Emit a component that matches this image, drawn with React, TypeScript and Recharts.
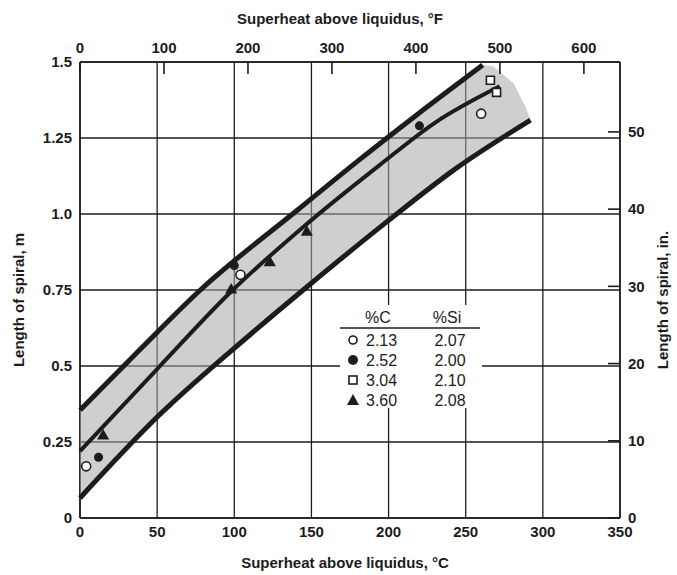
import React from 'react'
import { ComposedChart, Scatter, XAxis, YAxis, ZAxis, CartesianGrid } from 'recharts'

const celsiusTicks = [0, 50, 100, 150, 200, 250, 300, 350]
const fahrenheitTicks = [0, 100, 200, 300, 400, 500, 600]
const meterTicks = [0, 0.25, 0.5, 0.75, 1.0, 1.25, 1.5]
const meterLabels = ['0', '0.25', '0.5', '0.75', '1.0', '1.25', '1.5']
const inchTicks = [0, 10, 20, 30, 40, 50]

// scatter band edges (superheat °C, length m)
const upperEdge = [
  { c: 0, m: 0.355 }, { c: 40, m: 0.56 }, { c: 78, m: 0.75 }, { c: 141, m: 1.013 },
  { c: 181, m: 1.178 }, { c: 218, m: 1.325 }, { c: 261, m: 1.49 },
]
const bandCap = [{ c: 268, m: 1.485 }, { c: 281, m: 1.43 }, { c: 289, m: 1.35 }]
const lowerEdge = [
  { c: 0, m: 0.066 }, { c: 50, m: 0.332 }, { c: 110, m: 0.602 }, { c: 147, m: 0.76 },
  { c: 199, m: 0.975 }, { c: 244, m: 1.151 }, { c: 292, m: 1.309 },
]
const midLine = [
  { c: 0, m: 0.22 }, { c: 50, m: 0.49 }, { c: 97, m: 0.74 }, { c: 143, m: 0.95 },
  { c: 194, m: 1.16 }, { c: 230, m: 1.3 }, { c: 272, m: 1.42 },
]

// measured points per composition
const c213 = [{ c: 4, m: 0.17 }, { c: 104, m: 0.8 }, { c: 260, m: 1.33 }]
const c252 = [{ c: 12, m: 0.2 }, { c: 100, m: 0.83 }, { c: 220, m: 1.29 }]
const c304 = [{ c: 266, m: 1.44 }, { c: 270, m: 1.4 }]
const c360 = [{ c: 15, m: 0.27 }, { c: 98, m: 0.75 }, { c: 123, m: 0.84 }, { c: 147, m: 0.94 }]

const legendRows = [
  { shape: 'openCircle', carbon: '2.13', silicon: '2.07' },
  { shape: 'dot', carbon: '2.52', silicon: '2.00' },
  { shape: 'openSquare', carbon: '3.04', silicon: '2.10' },
  { shape: 'triangle', carbon: '3.60', silicon: '2.08' },
]

const INK = '#1c1c1c'
const PLOT_TOP = 62
const PLOT_RIGHT = 620
const tickFont = {
  fontFamily: "'Liberation Sans Narrow', 'Liberation Sans', sans-serif",
  fontWeight: 700,
  fontSize: 15,
  fill: INK,
}
const titleStyle: React.CSSProperties = {
  position: 'absolute',
  fontFamily: "'Liberation Sans Narrow', 'Liberation Sans', sans-serif",
  fontWeight: 700,
  fontSize: 15,
  color: INK,
  whiteSpace: 'nowrap',
}
const frame = { stroke: INK, strokeWidth: 1.6 }

const band = [...upperEdge, ...bandCap, ...[...lowerEdge].reverse()]
const noDot = () => <g />

function LegendMark({ shape, x, y }: { shape: string; x: number; y: number }) {
  if (shape === 'openCircle') return <circle cx={x} cy={y} r={4} fill="#fff" stroke={INK} strokeWidth={1.6} />
  if (shape === 'dot') return <circle cx={x} cy={y} r={5} fill={INK} />
  if (shape === 'openSquare') return <rect x={x - 4} y={y - 4} width={8} height={8} fill="#fff" stroke={INK} strokeWidth={1.6} />
  return <path d={`M${x} ${y - 6}L${x + 6} ${y + 5}L${x - 6} ${y + 5}Z`} fill={INK} />
}

export default function App() {
  return (
    <div style={{ position: 'absolute', left: 0, top: 0, width: 677, height: 575, background: '#fff' }}>
      <ComposedChart width={677} height={575} margin={{ top: 32, right: 0, bottom: 27, left: 30 }}>
        <CartesianGrid stroke={INK} strokeWidth={1.3} />
        <XAxis
          type="number"
          dataKey="c"
          domain={[0, 350]}
          ticks={celsiusTicks}
          interval={0}
          height={30}
          tickLine={false}
          axisLine={frame}
          tick={(p: any) => (
            <text x={p.x} y={p.y} dy="0.75em" textAnchor="middle" {...tickFont}>
              {p.payload.value}
            </text>
          )}
        />
        <XAxis
          xAxisId="f"
          orientation="top"
          type="number"
          dataKey="c"
          domain={[0, 643]}
          allowDataOverflow
          ticks={fahrenheitTicks}
          interval={0}
          height={30}
          tickLine={false}
          axisLine={frame}
          tick={(p: any) => (
            <g>
              <line x1={p.x} x2={p.x} y1={PLOT_TOP} y2={PLOT_TOP + 12} stroke={INK} strokeWidth={1.6} />
              <text x={p.x} y={p.y} dy="-0.1em" textAnchor="middle" {...tickFont}>
                {p.payload.value}
              </text>
            </g>
          )}
        />
        <YAxis
          type="number"
          dataKey="m"
          domain={[0, 1.5]}
          ticks={meterTicks}
          interval={0}
          width={50}
          tickLine={false}
          axisLine={frame}
          tick={(p: any) => (
            <text x={p.x} y={p.y} dy="0.35em" textAnchor="end" {...tickFont}>
              {meterLabels[meterTicks.indexOf(p.payload.value)]}
            </text>
          )}
        />
        <YAxis
          yAxisId="in"
          orientation="right"
          type="number"
          dataKey="m"
          domain={[0, 1.5 / 0.0254]}
          allowDataOverflow
          ticks={inchTicks}
          interval={0}
          width={57}
          tickLine={false}
          axisLine={frame}
          tick={(p: any) => (
            <g>
              <line x1={PLOT_RIGHT - 12} x2={PLOT_RIGHT} y1={p.y} y2={p.y} stroke={INK} strokeWidth={1.6} />
              <text x={p.x} y={p.y} dy="0.35em" textAnchor="start" {...tickFont}>
                {p.payload.value}
              </text>
            </g>
          )}
        />
        <ZAxis range={[60, 60]} />

        {/* invisible series so the °F and inch scales get drawn */}
        <Scatter data={lowerEdge} xAxisId="f" yAxisId="in" shape={noDot} isAnimationActive={false} />

        <Scatter
          data={band}
          shape={noDot}
          line={{ fill: '#a8a8a8', fillOpacity: 0.55, stroke: 'none' }}
          isAnimationActive={false}
        />
        <Scatter data={upperEdge} shape={noDot} line={{ stroke: INK, strokeWidth: 5 }} lineJointType="monotoneX" isAnimationActive={false} />
        <Scatter data={lowerEdge} shape={noDot} line={{ stroke: INK, strokeWidth: 5 }} lineJointType="monotoneX" isAnimationActive={false} />
        <Scatter data={midLine} shape={noDot} line={{ stroke: INK, strokeWidth: 4 }} lineJointType="monotoneX" isAnimationActive={false} />

        <Scatter data={c213} shape="circle" fill="#fff" stroke={INK} strokeWidth={1.6} isAnimationActive={false} />
        <Scatter data={c252} shape="circle" fill={INK} isAnimationActive={false} />
        <Scatter data={c304} shape="square" fill="#fff" stroke={INK} strokeWidth={1.6} isAnimationActive={false} />
        <Scatter data={c360} shape="triangle" fill={INK} isAnimationActive={false} />
      </ComposedChart>

      <svg
        width={150}
        height={105}
        style={{ position: 'absolute', left: 338, top: 304 }}
        viewBox="338 304 150 105"
      >
        <rect x={340} y={305} width={142} height={103} fill="#fff" />
        <g fontFamily="'Liberation Sans', Arial, sans-serif" fontSize={16} fill={INK}>
          <text x={378} y={323} textAnchor="middle">%C</text>
          <text x={447} y={323} textAnchor="middle">%Si</text>
          <line x1={340} x2={480} y1={328} y2={328} stroke={INK} strokeWidth={1.5} />
          {legendRows.map((r, i) => (
            <g key={r.carbon}>
              <LegendMark shape={r.shape} x={353} y={340 + i * 20} />
              <text x={366} y={346 + i * 20}>{r.carbon}</text>
              <text x={450} y={346 + i * 20} textAnchor="middle">{r.silicon}</text>
            </g>
          ))}
        </g>
      </svg>

      <div style={{ ...titleStyle, left: 340, top: 18, transform: 'translate(-50%, -50%)' }}>
        Superheat above liquidus, °F
      </div>
      <div style={{ ...titleStyle, left: 345, top: 562, transform: 'translate(-50%, -50%)' }}>
        Superheat above liquidus, °C
      </div>
      <div style={{ ...titleStyle, left: 18, top: 300, transform: 'translate(-50%, -50%) rotate(-90deg)' }}>
        Length of spiral, m
      </div>
      <div style={{ ...titleStyle, left: 662, top: 300, transform: 'translate(-50%, -50%) rotate(-90deg)' }}>
        Length of spiral, in.
      </div>
    </div>
  )
}
